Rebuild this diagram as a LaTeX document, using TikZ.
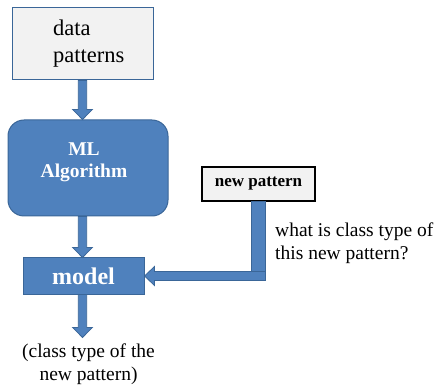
\documentclass[tikz,border=0pt]{standalone}
\usepackage{fontspec}
\setmainfont{Liberation Serif}
\usetikzlibrary{calc}
\definecolor{blk}{HTML}{4F81BD}
\definecolor{blkline}{HTML}{3A6698}
\definecolor{boxgray}{HTML}{F2F2F2}

% downward block arrow from #1 to tip #2
\newcommand\downblock[2]{%
  \draw[blockarrow] ($(#1)+(-4.2,0)$) -- ($(#2)+(-4.2,-10)$) -- ($(#2)+(-9.8,-10)$)
    -- (#2) -- ($(#2)+(9.8,-10)$) -- ($(#2)+(4.2,-10)$) -- ($(#1)+(4.2,0)$) -- cycle;}

\begin{document}
\begin{tikzpicture}[x=1pt,y=-1pt,
  blockarrow/.style={fill=blk,draw=blkline,line width=0.8pt,line join=miter},
  txt/.style={font=\fontsize{19.5}{23}\selectfont,inner sep=0pt},
  bluebox/.style={draw=blkline,fill=blk,line width=1pt,inner sep=0pt,text=white}]
\useasboundingbox (0,0) rectangle (436,387);

% input data box
\node[draw=blkline,fill=boxgray,line width=1pt,minimum width=141pt,minimum height=72pt,inner sep=0pt] (dp) at (82.5,44) {};
\node[anchor=west,align=left,inner sep=0pt,font=\fontsize{22.5}{27}\selectfont] (dptext) at (53,44) {data\\patterns};

% learning algorithm
\node[bluebox,rounded corners=16pt,minimum width=160pt,minimum height=96pt] (ml) at (88,168) {};
\node[align=center,inner sep=0pt,text=white,font=\fontsize{19.5}{22}\selectfont\bfseries] (mltext) at (84,162.5) {ML\\Algorithm};

% trained model
\node[bluebox,minimum width=121pt,minimum height=36pt,font=\fontsize{24}{28}\selectfont\bfseries] (mdl) at (83.5,276) {model};

% new input
\node[draw=black,fill=boxgray,line width=1.2pt,minimum width=113pt,minimum height=34pt,inner sep=0pt,font=\fontsize{17}{20}\selectfont\bfseries] (np) at (258.5,184) {new pattern};

% question and output texts
\node[txt,anchor=west,align=left] (q) at (275,243.5) {what is class type of\\this new pattern?};
\node[txt,align=center] (res) at (88.5,364) {(class type of the\\new pattern)};

% vertical flow
\coordinate (t1) at (dp.south |- ml.north);
\coordinate (t2) at (dp.south |- mdl.north);
\coordinate (s3) at (dp.south |- mdl.south);
\coordinate (t3) at ($(s3)+(0,43)$);
\downblock{dp.south}{t1}
\downblock{t1 |- ml.south}{t2}
\downblock{s3}{t3}

% elbow arrow from the new pattern into the model
\coordinate (tipA) at (mdl.east);
\coordinate (corner) at (np.south |- mdl.east);
\draw[blockarrow] ($(np.south)+(-7,0)$) -- ($(corner)+(-7,-4.5)$) -- ($(tipA)+(10,-4.5)$)
  -- ($(tipA)+(10,-9.5)$) -- (tipA) -- ($(tipA)+(10,9.5)$) -- ($(tipA)+(10,4.5)$)
  -- ($(corner)+(7,4.5)$) -- ($(np.south)+(7,0)$) -- cycle;
\draw[blkline,line width=0.8pt] ($(corner)+(-7,-4.5)$) -- ($(corner)+(7,-4.5)$);
\end{tikzpicture}
\end{document}
